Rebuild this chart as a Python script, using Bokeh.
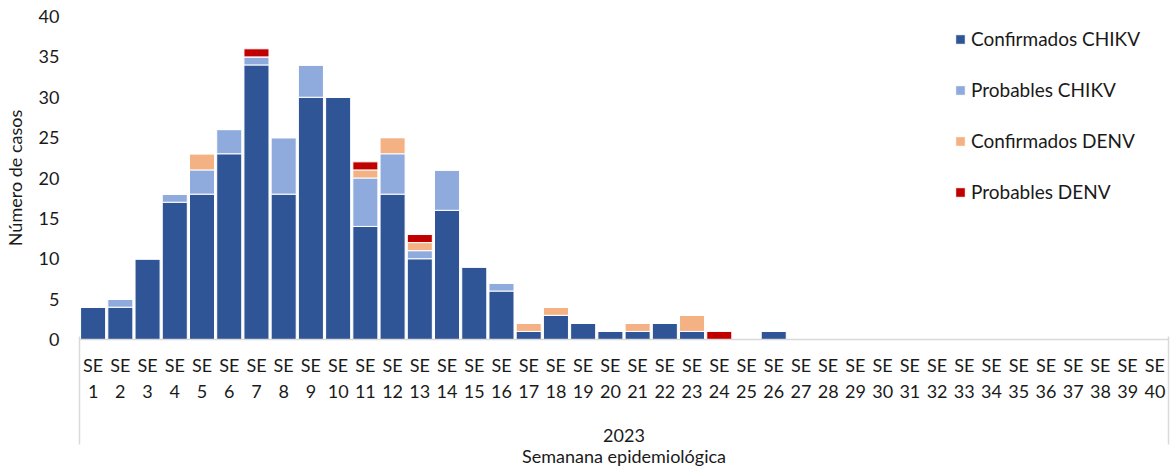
from bokeh.plotting import figure
from bokeh.models import FixedTicker, Legend, LegendItem, LinearAxis
from bokeh.embed import file_html
from bokeh.resources import INLINE

weeks = list(range(1, 41))
conf_chikv = [4, 4, 10, 17, 18, 23, 34, 18, 30, 30, 14, 18, 10, 16, 9, 6, 1, 3, 2, 1,
              1, 2, 1, 0, 0, 1, 0, 0, 0, 0, 0, 0, 0, 0, 0, 0, 0, 0, 0, 0]
prob_chikv = [0, 1, 0, 1, 3, 3, 1, 7, 4, 0, 6, 5, 1, 5, 0, 1, 0, 0, 0, 0,
              0, 0, 0, 0, 0, 0, 0, 0, 0, 0, 0, 0, 0, 0, 0, 0, 0, 0, 0, 0]
conf_denv = [0, 0, 0, 0, 2, 0, 0, 0, 0, 0, 1, 2, 1, 0, 0, 0, 1, 1, 0, 0,
             1, 0, 2, 0, 0, 0, 0, 0, 0, 0, 0, 0, 0, 0, 0, 0, 0, 0, 0, 0]
prob_denv = [0, 0, 0, 0, 0, 0, 1, 0, 0, 0, 1, 0, 1, 0, 0, 0, 0, 0, 0, 0,
             0, 0, 0, 1, 0, 0, 0, 0, 0, 0, 0, 0, 0, 0, 0, 0, 0, 0, 0, 0]
series = ["Confirmados CHIKV", "Probables CHIKV", "Confirmados DENV", "Probables DENV"]
colors = ["#2F5597", "#8FAADC", "#F4B183", "#C00000"]
tick_labels = {w: f"SE\n{w}" for w in weeks}
group_label = "2023"
x_title = "Semanana epidemiológica"
y_title = "Número de casos"

FONT = "Lato"
TXT = "#1a1a1a"
GRID = "#D9D9D9"

data = dict(x=weeks, s0=conf_chikv, s1=prob_chikv, s2=conf_denv, s3=prob_denv)

p = figure(width=1172, height=469, output_backend="svg", toolbar_location=None,
           x_range=(0.5, 40.5), y_range=(0, 40),
           min_border_left=72, min_border_right=4, min_border_top=16, min_border_bottom=0)
p.outline_line_color = None
p.xgrid.visible = False
p.ygrid.visible = False

renderers = p.vbar_stack(["s0", "s1", "s2", "s3"], x="x", width=0.92, source=data,
                         color=colors, line_color="white", line_width=1)

legend = Legend(items=[LegendItem(label=s, renderers=[r]) for s, r in zip(series, renderers)],
                location=(875, 136), padding=0, margin=0, spacing=28,
                glyph_width=12, glyph_height=12, label_height=22,
                label_text_font=FONT, label_text_font_size="19px", label_text_color=TXT,
                border_line_color=None, background_fill_alpha=0, label_standoff=5)
p.add_layout(legend)

# y axis
p.yaxis.ticker = FixedTicker(ticks=list(range(0, 41, 5)))
p.yaxis.axis_line_color = None
p.yaxis.major_tick_line_color = None
p.yaxis.minor_tick_line_color = None
p.yaxis.major_label_text_font = FONT
p.yaxis.major_label_text_font_size = "18px"
p.yaxis.major_label_text_color = TXT
p.yaxis.major_label_standoff = 14
p.yaxis.axis_label = y_title
p.yaxis.axis_label_text_font = FONT
p.yaxis.axis_label_text_font_size = "18px"
p.yaxis.axis_label_text_font_style = "normal"
p.yaxis.axis_label_text_color = TXT
p.yaxis.axis_label_standoff = 10

# x axis: week labels + group label
xa = p.xaxis[0]
xa.ticker = FixedTicker(ticks=weeks, minor_ticks=[])
xa.major_label_overrides = tick_labels
xa.major_tick_line_color = None
xa.minor_tick_line_color = None
xa.major_tick_out = 0
xa.minor_tick_out = 0
xa.axis_line_color = GRID
xa.axis_line_width = 1.5
xa.major_label_text_font = FONT
xa.major_label_text_font_size = "18px"
xa.major_label_text_color = TXT
xa.major_label_standoff = 14
xa.axis_label = group_label
xa.axis_label_text_font = FONT
xa.axis_label_text_font_size = "18px"
xa.axis_label_text_font_style = "normal"
xa.axis_label_text_color = TXT
xa.axis_label_standoff = 24

# outer axis: group separators (ticks pointing up to the frame) + axis title
xb = LinearAxis(ticker=FixedTicker(ticks=[0.5, 40.5], minor_ticks=[]))
xb.axis_line_color = None
xb.major_tick_in = 108
xb.major_tick_out = 0
xb.major_tick_line_color = GRID
xb.major_tick_line_width = 1.5
xb.minor_tick_line_color = None
xb.major_label_text_font_size = "0px"
xb.major_label_text_alpha = 0
xb.major_label_standoff = 0
xb.axis_label = x_title
xb.axis_label_text_font = FONT
xb.axis_label_text_font_size = "18px"
xb.axis_label_text_font_style = "normal"
xb.axis_label_text_color = TXT
xb.axis_label_standoff = 0
p.add_layout(xb, "below")

open("out.html", "w").write(file_html(p, INLINE))
